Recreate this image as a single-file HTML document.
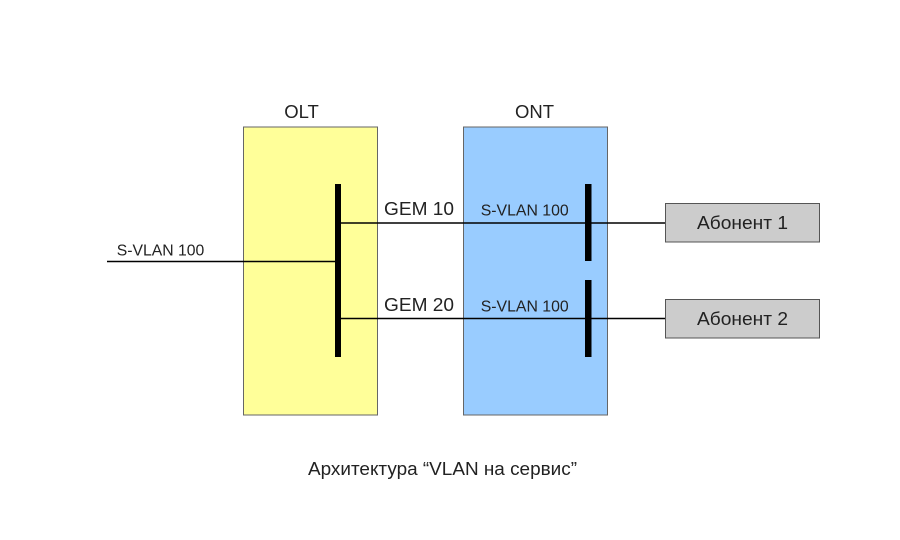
<!DOCTYPE html>
<html>
<head>
<meta charset="utf-8">
<style>
  html, body { margin: 0; padding: 0; background: #ffffff; }
  svg { display: block; }
  text { font-family: "Liberation Sans", "DejaVu Sans", sans-serif; fill: #222; }
</style>
</head>
<body>
<svg width="900" height="540" viewBox="0 0 900 540" xmlns="http://www.w3.org/2000/svg">
  <rect x="0" y="0" width="900" height="540" fill="#ffffff"/>

  <!-- OLT box -->
  <rect x="243.5" y="127" width="134" height="288" fill="#ffff99" stroke="#666666" stroke-width="1"/>
  <!-- ONT box -->
  <rect x="463.5" y="127" width="144" height="288" fill="#99ccff" stroke="#666666" stroke-width="1"/>

  <!-- Titles -->
  <text x="301.5" y="118" font-size="18.5" text-anchor="middle">OLT</text>
  <text x="534.5" y="118" font-size="18.5" text-anchor="middle">ONT</text>

  <!-- Lines -->
  <line x1="107" y1="261.5" x2="338" y2="261.5" stroke="#000" stroke-width="1.6"/>
  <line x1="338" y1="223" x2="665.5" y2="223" stroke="#000" stroke-width="1.6"/>
  <line x1="338" y1="318.5" x2="665.5" y2="318.5" stroke="#000" stroke-width="1.6"/>

  <!-- Bars -->
  <rect x="335" y="184" width="6" height="173" fill="#000"/>
  <rect x="585" y="184" width="6.5" height="77" fill="#000"/>
  <rect x="585" y="280" width="6.5" height="77" fill="#000"/>

  <!-- Abonent boxes -->
  <rect x="665.5" y="203.5" width="154" height="38.5" fill="#cccccc" stroke="#555555" stroke-width="1"/>
  <rect x="665.5" y="299.5" width="154" height="38.5" fill="#cccccc" stroke="#555555" stroke-width="1"/>
  <text x="697" y="229" font-size="18.5" textLength="91" lengthAdjust="spacingAndGlyphs">Абонент 1</text>
  <text x="697" y="325" font-size="18.5" textLength="91" lengthAdjust="spacingAndGlyphs">Абонент 2</text>

  <!-- Labels -->
  <text x="116.7" y="255.5" font-size="16" textLength="87.6" lengthAdjust="spacingAndGlyphs">S-VLAN 100</text>
  <text x="384" y="215" font-size="18.5" textLength="70" lengthAdjust="spacingAndGlyphs">GEM 10</text>
  <text x="384" y="311" font-size="18.5" textLength="70" lengthAdjust="spacingAndGlyphs">GEM 20</text>
  <text x="480.7" y="215.5" font-size="16" textLength="88" lengthAdjust="spacingAndGlyphs">S-VLAN 100</text>
  <text x="480.7" y="311.5" font-size="16" textLength="88" lengthAdjust="spacingAndGlyphs">S-VLAN 100</text>

  <!-- Caption -->
  <text x="308" y="475" font-size="18.5" textLength="269" lengthAdjust="spacingAndGlyphs">Архитектура “VLAN на сервис”</text>
</svg>
</body>
</html>
